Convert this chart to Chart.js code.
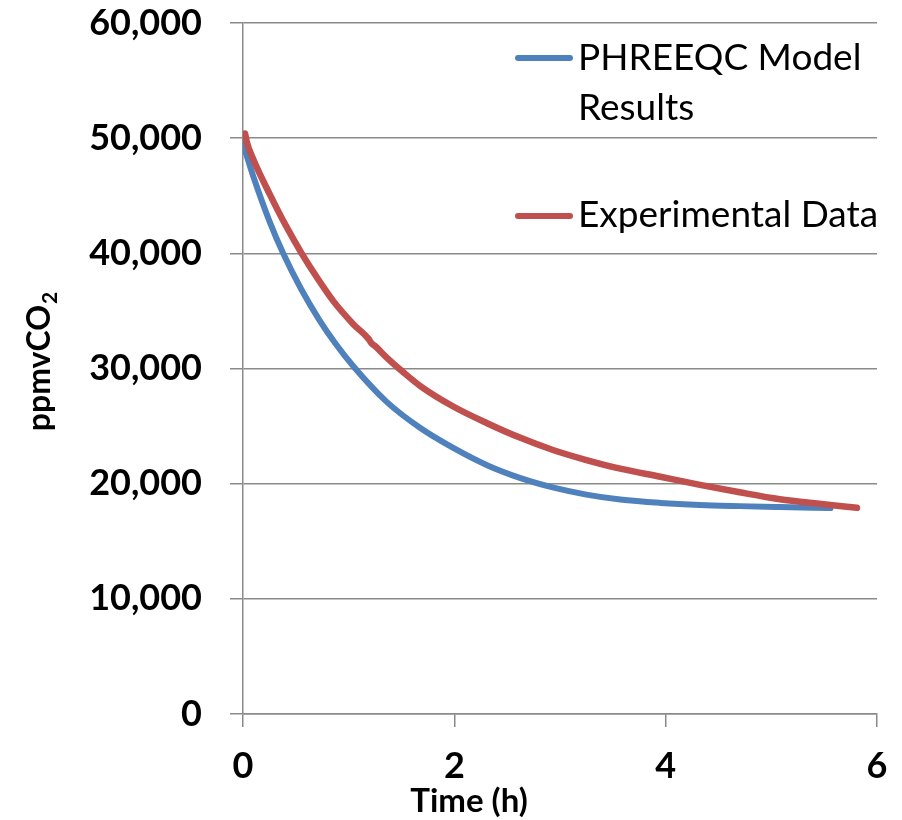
<!DOCTYPE html>
<html><head><meta charset="utf-8">
<script src="https://cdn.jsdelivr.net/npm/chart.js@4.4.1/dist/chart.umd.min.js"></script>
<style>html,body{margin:0;padding:0;background:#fff}#wrap{width:902px;height:820px;position:relative}</style>
</head><body><div id="wrap"><canvas id="c" width="902" height="820"></canvas></div>
<script>
// ---- data ----
const seriesNames = ['PHREEQC Model Results', 'Experimental Data'];
const modelTime = [0, 0.1, 0.25, 0.38, 0.55, 0.72, 0.88, 1.05, 1.36, 1.675, 1.99, 2.31, 2.62, 2.94, 3.25, 3.57, 3.95, 4.325, 4.7, 5.08, 5.56];
const modelPpm  = [49500, 46600, 42800, 40000, 36900, 34250, 32100, 30130, 27100, 24850, 23100, 21600, 20500, 19650, 19050, 18620, 18330, 18150, 18050, 17970, 17880];
const expTime = [0.02, 0.035, 0.1, 0.255, 0.4, 0.555, 0.7, 0.855, 1.044, 1.19, 1.215, 1.25, 1.36, 1.52, 1.675, 1.99, 2.31, 2.62, 2.94, 3.25, 3.57, 3.95, 4.325, 4.7, 5.08, 5.45, 5.81];
const expPpm  = [50400, 49700, 48100, 45100, 42500, 40000, 37900, 35850, 33850, 32550, 32200, 31950, 30950, 29650, 28500, 26700, 25250, 24000, 22900, 22050, 21300, 20600, 19900, 19250, 18650, 18250, 17900];
const xTickValues = [0, 2, 4, 6];
const yTickValues = [0, 10000, 20000, 30000, 40000, 50000, 60000];

const toPts = (xs, ys) => xs.map((x, i) => ({x: x, y: ys[i]}));
const BLUE = '#4F81BD', RED = '#C0504D', GRID = '#8a8a8a';
const FONT = 'Lato, "Open Sans", sans-serif';

const overlay = {
  id: 'overlay',
  afterDraw(chart) {
    const ctx = chart.ctx;
    ctx.save();
    // legend
    ctx.lineCap = 'round';
    ctx.lineWidth = 6;
    const entries = [
      {color: BLUE, lineY: 58, lines: ['PHREEQC Model', 'Results'], base: [70, 120]},
      {color: RED, lineY: 216, lines: ['Experimental Data'], base: [227]}
    ];
    entries.forEach(e => {
      ctx.strokeStyle = e.color;
      ctx.beginPath(); ctx.moveTo(518, e.lineY); ctx.lineTo(570, e.lineY); ctx.stroke();
      ctx.fillStyle = '#000';
      ctx.font = '37px ' + FONT;
      ctx.textAlign = 'left'; ctx.textBaseline = 'alphabetic';
      e.lines.forEach((t, i) => ctx.fillText(t, 578, e.base[i]));
    });
    // x title
    ctx.font = 'bold 33px ' + FONT;
    ctx.textAlign = 'center';
    ctx.fillText('Time (h)', 469, 812);
    // y title with subscript
    ctx.translate(50, 362);
    ctx.rotate(-Math.PI / 2);
    ctx.font = 'bold 32px ' + FONT;
    const main = 'ppmvCO';
    const wMain = ctx.measureText(main).width;
    ctx.font = 'bold 21px ' + FONT;
    const wSub = ctx.measureText('2').width;
    const start = -(wMain + wSub) / 2;
    ctx.textAlign = 'left';
    ctx.font = 'bold 32px ' + FONT;
    ctx.fillText(main, start, 0);
    ctx.font = 'bold 21px ' + FONT;
    ctx.fillText('2', start + wMain + 1, 7);
    ctx.restore();
  }
};

new Chart(document.getElementById('c'), {
  type: 'line',
  data: {
    datasets: [
      {label: seriesNames[0], data: toPts(modelTime, modelPpm), borderColor: BLUE, backgroundColor: BLUE, borderWidth: 6, pointRadius: 0, cubicInterpolationMode: 'monotone', borderCapStyle: 'round', borderJoinStyle: 'round', order: 1},
      {label: seriesNames[1], data: toPts(expTime, expPpm), borderColor: RED, backgroundColor: RED, borderWidth: 6.5, pointRadius: 0, cubicInterpolationMode: 'monotone', borderCapStyle: 'round', borderJoinStyle: 'round', order: 0}
    ]
  },
  options: {
    responsive: false, animation: false, devicePixelRatio: 1,
    layout: {padding: {top: 23, right: 25, left: 0, bottom: 0}},
    plugins: {legend: {display: false}, tooltip: {enabled: false}},
    scales: {
      x: {
        type: 'linear', min: 0, max: 6,
        afterBuildTicks: s => { s.ticks = xTickValues.map(v => ({value: v})); },
        afterFit: s => { s.height = 106; s.paddingLeft = 0; s.paddingRight = 0; },
        grid: {drawOnChartArea: false, drawTicks: true, tickLength: 13, color: GRID, lineWidth: 1.5},
        border: {color: GRID, width: 1.5},
        ticks: {color: '#000', font: {family: FONT, size: 36, weight: 'bold'}, padding: 18, maxRotation: 0,
                callback: v => String(v)}
      },
      y: {
        type: 'linear', min: 0, max: 60000,
        afterBuildTicks: s => { s.ticks = yTickValues.map(v => ({value: v})); },
        afterFit: s => { s.width = 243; s.paddingTop = 0; s.paddingBottom = 0; },
        grid: {drawOnChartArea: true, drawTicks: true, tickLength: 13, color: GRID, lineWidth: 1.5},
        border: {color: GRID, width: 1.5},
        ticks: {color: '#000', font: {family: FONT, size: 36, weight: 'bold'}, padding: 28,
                callback: v => v.toLocaleString('en-US')}
      }
    }
  },
  plugins: [overlay]
});
</script></body></html>
